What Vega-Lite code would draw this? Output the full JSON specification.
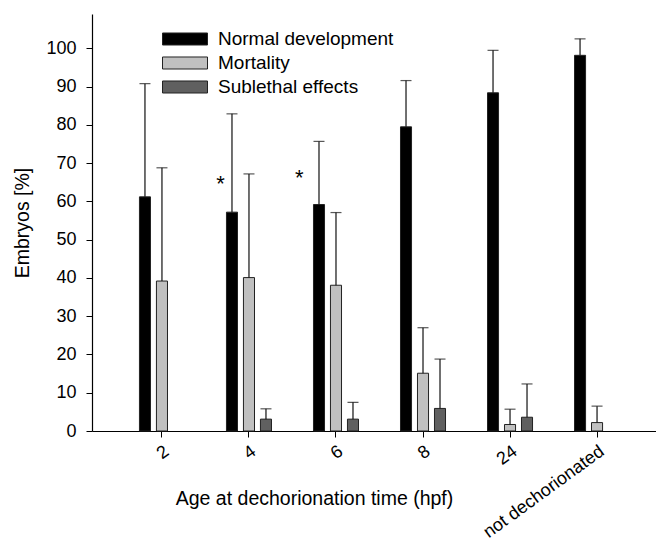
{
  "$schema": "https://vega.github.io/schema/vega-lite/v6.json",
  "width": 575,
  "height": 417,
  "autosize": {"type": "none"},
  "padding": {"left": 92, "top": 14, "right": 0, "bottom": 111},
  "background": "white",
  "config": {
    "view": {"stroke": null},
    "font": "Liberation Sans",
    "axis": {"domainColor": "#000", "tickColor": "#000", "labelColor": "#000", "titleColor": "#000", "grid": false, "titleFontWeight": "normal", "labelFont": "Liberation Sans", "titleFont": "Liberation Sans"}
  },
  "datasets": {
    "bars": [
      {"age": "2", "group": "Normal development", "value": 61.2, "upper": 90.8},
      {"age": "2", "group": "Mortality", "value": 39.2, "upper": 68.8},
      {"age": "4", "group": "Normal development", "value": 57.2, "upper": 82.9},
      {"age": "4", "group": "Mortality", "value": 40.1, "upper": 67.2},
      {"age": "4", "group": "Sublethal effects", "value": 3.1, "upper": 5.8},
      {"age": "6", "group": "Normal development", "value": 59.2, "upper": 75.7},
      {"age": "6", "group": "Mortality", "value": 38.1, "upper": 57.1},
      {"age": "6", "group": "Sublethal effects", "value": 3.1, "upper": 7.5},
      {"age": "8", "group": "Normal development", "value": 79.5, "upper": 91.6},
      {"age": "8", "group": "Mortality", "value": 15.1, "upper": 27.0},
      {"age": "8", "group": "Sublethal effects", "value": 5.9, "upper": 18.8},
      {"age": "24", "group": "Normal development", "value": 88.4, "upper": 99.5},
      {"age": "24", "group": "Mortality", "value": 1.7, "upper": 5.7},
      {"age": "24", "group": "Sublethal effects", "value": 3.6, "upper": 12.3},
      {"age": "not dechorionated", "group": "Normal development", "value": 98.2, "upper": 102.5},
      {"age": "not dechorionated", "group": "Mortality", "value": 2.2, "upper": 6.5}
    ],
    "stars": [
      {"age": "4", "group": "Normal development", "label": "*", "value": 62.7},
      {"age": "6", "group": "Normal development", "label": "*", "value": 64.2}
    ]
  },
  "layer": [
    {
      "data": {"name": "bars"},
      "mark": {"type": "bar", "stroke": "#222", "strokeWidth": 1},
      "encoding": {
        "x": {
          "field": "age", "type": "nominal",
          "sort": ["2", "4", "6", "8", "24", "not dechorionated"],
          "scale": {"paddingInner": 0.414, "paddingOuter": 0.511},
          "axis": {
            "title": "Age at dechorionation time (hpf)",
            "titleFontSize": 19.5,
            "titleX": 222, "titleY": 67, "titleBaseline": "middle", "titleAlign": "center",
            "labelAngle": -36, "labelAlign": "right", "labelBaseline": "top",
            "labelFontSize": 18, "labelPadding": 5, "labelOffset": 0, "labelLimit": 0,
            "tickSize": 6, "domainWidth": 1.2
          }
        },
        "xOffset": {
          "field": "group", "type": "nominal",
          "sort": ["Normal development", "Mortality", "Sublethal effects"],
          "scale": {"paddingInner": 0.35, "paddingOuter": 0.175}
        },
        "y": {
          "field": "value", "type": "quantitative",
          "scale": {"domain": [0, 109], "nice": false, "zero": true},
          "axis": {
            "title": "Embryos [%]", "titleFontSize": 19.5,
            "titleX": -70, "titleY": 208.5, "titleBaseline": "middle", "titleAlign": "center", "titleAngle": 270,
            "values": [0, 10, 20, 30, 40, 50, 60, 70, 80, 90, 100],
            "labelFontSize": 18, "labelPadding": 10, "tickSize": 6, "domainWidth": 1.2
          }
        },
        "color": {
          "field": "group", "type": "nominal",
          "sort": ["Normal development", "Mortality", "Sublethal effects"],
          "scale": {"domain": ["Normal development", "Mortality", "Sublethal effects"], "range": ["#000000", "#c0c0c0", "#606060"]},
          "legend": {
            "title": null, "orient": "none", "legendX": 70, "legendY": 15, "padding": 0,
            "symbolType": "M-1,-0.267H1V0.267H-1Z", "symbolSize": 2025,
            "symbolStrokeColor": "#222", "symbolStrokeWidth": 1,
            "labelFontSize": 19, "labelFont": "Liberation Sans", "labelColor": "#000", "labelLimit": 0,
            "clipHeight": 20, "rowPadding": 4, "labelOffset": 10
          }
        }
      }
    },
    {
      "data": {"name": "bars"},
      "mark": {"type": "rule", "color": "#111", "strokeWidth": 1.2},
      "encoding": {
        "x": {"field": "age", "type": "nominal", "sort": ["2", "4", "6", "8", "24", "not dechorionated"]},
        "xOffset": {"field": "group", "type": "nominal", "sort": ["Normal development", "Mortality", "Sublethal effects"]},
        "y": {"field": "value", "type": "quantitative"},
        "y2": {"field": "upper"}
      }
    },
    {
      "data": {"name": "bars"},
      "mark": {"type": "tick", "orient": "horizontal", "color": "#111", "size": 11, "thickness": 1.2},
      "encoding": {
        "x": {"field": "age", "type": "nominal", "sort": ["2", "4", "6", "8", "24", "not dechorionated"]},
        "xOffset": {"field": "group", "type": "nominal", "sort": ["Normal development", "Mortality", "Sublethal effects"]},
        "y": {"field": "upper", "type": "quantitative"}
      }
    },
    {
      "data": {"name": "stars"},
      "transform": [{"filter": "datum.age == '4'"}],
      "mark": {"type": "text", "fontSize": 22, "baseline": "alphabetic", "dx": -11.5, "color": "#000"},
      "encoding": {
        "x": {"field": "age", "type": "nominal", "sort": ["2", "4", "6", "8", "24", "not dechorionated"]},
        "xOffset": {"field": "group", "type": "nominal", "sort": ["Normal development", "Mortality", "Sublethal effects"]},
        "y": {"field": "value", "type": "quantitative"},
        "text": {"field": "label"}
      }
    },
    {
      "data": {"name": "stars"},
      "transform": [{"filter": "datum.age == '6'"}],
      "mark": {"type": "text", "fontSize": 22, "baseline": "alphabetic", "dx": -19.7, "color": "#000"},
      "encoding": {
        "x": {"field": "age", "type": "nominal", "sort": ["2", "4", "6", "8", "24", "not dechorionated"]},
        "xOffset": {"field": "group", "type": "nominal", "sort": ["Normal development", "Mortality", "Sublethal effects"]},
        "y": {"field": "value", "type": "quantitative"},
        "text": {"field": "label"}
      }
    }
  ]
}
